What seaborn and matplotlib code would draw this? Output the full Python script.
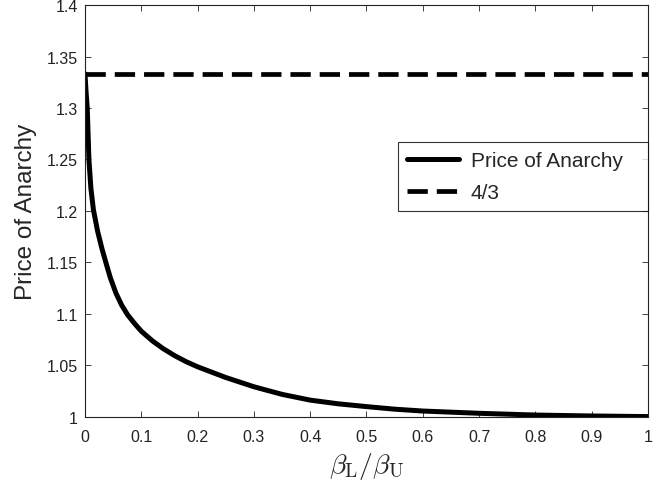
import numpy as np
import pandas as pd
import matplotlib
matplotlib.use('Agg')
import matplotlib.pyplot as plt
import seaborn as sns

# ── Dados ─────────────────────────────────────────────────────────────────────
ratio = [0, 0.002, 0.004, 0.007, 0.0105, 0.015, 0.0225, 0.03, 0.037, 0.045,
         0.055, 0.065, 0.0756, 0.088, 0.1, 0.12, 0.139, 0.16, 0.18, 0.2,
         0.25, 0.3, 0.35, 0.4, 0.45, 0.5, 0.55, 0.6, 0.7, 0.8, 0.9, 1.0]
poa = [1.3333, 1.315, 1.30, 1.25, 1.222, 1.201, 1.180, 1.1635, 1.15, 1.135,
       1.120, 1.1085, 1.099, 1.0905, 1.083, 1.0735, 1.066, 1.059, 1.0533, 1.0484,
       1.038, 1.029, 1.0216, 1.016, 1.0124, 1.0097, 1.0072, 1.0054, 1.0032,
       1.0015, 1.0006, 1.0]
bound_x = [0, 1]
bound_y = [4 / 3, 4 / 3]

xticks = [0, 0.1, 0.2, 0.3, 0.4, 0.5, 0.6, 0.7, 0.8, 0.9, 1]
xtick_labels = ['0', '0.1', '0.2', '0.3', '0.4', '0.5', '0.6', '0.7', '0.8', '0.9', '1']
yticks = [1, 1.05, 1.1, 1.15, 1.2, 1.25, 1.3, 1.35, 1.4]
ytick_labels = ['1', '1.05', '1.1', '1.15', '1.2', '1.25', '1.3', '1.35', '1.4']

df = pd.DataFrame({'ratio': ratio, 'poa': poa})
df_bound = pd.DataFrame({'x': bound_x, 'y': bound_y})

sns.set_style('ticks')
plt.rcParams['font.family'] = ['Liberation Sans', 'DejaVu Sans']
plt.rcParams['mathtext.fontset'] = 'cm'

fig = plt.figure(figsize=(6.67, 4.85), dpi=100)
ax = fig.add_axes([0.1274, 0.139, 0.8441, 0.8485])

sns.lineplot(data=df, x='ratio', y='poa', ax=ax, color='black', lw=3.6,
             label='Price of Anarchy')
sns.lineplot(data=df_bound, x='x', y='y', ax=ax, color='black', lw=3.4,
             dashes=False, label='4/3')
ax.lines[1].set_dashes([4.3, 1.9])

ax.set_xlim(0, 1)
ax.set_ylim(1, 1.4)
ax.set_xticks(xticks)
ax.set_xticklabels(xtick_labels)
ax.set_yticks(yticks)
ax.set_yticklabels(ytick_labels)
ax.tick_params(direction='in', top=True, right=True, labelsize=11.5,
               length=4, width=0.6, colors='#222222')
ax.tick_params(axis='x', pad=9)
ax.tick_params(axis='y', pad=5)
for s in ax.spines.values():
    s.set_linewidth(0.8)
    s.set_color('#222222')

ax.set_xlabel(r'$\beta_{\rm L}/\beta_{\rm U}$', fontsize=20, labelpad=4)
ax.set_ylabel('Price of Anarchy', fontsize=17.5, labelpad=7)

# legenda com a largura da caixa original (modo expand)
leg = ax.legend(loc='upper left', bbox_to_anchor=(0.556, 0.667, 0.444, 0.0),
                mode='expand', fontsize=15, handlelength=2.5,
                handletextpad=0.55, frameon=True, fancybox=False,
                edgecolor='black', borderpad=0.45, labelspacing=0.6,
                borderaxespad=0)
leg.get_frame().set_linewidth(0.8)

plt.savefig('out.png', dpi=100)
plt.close()
